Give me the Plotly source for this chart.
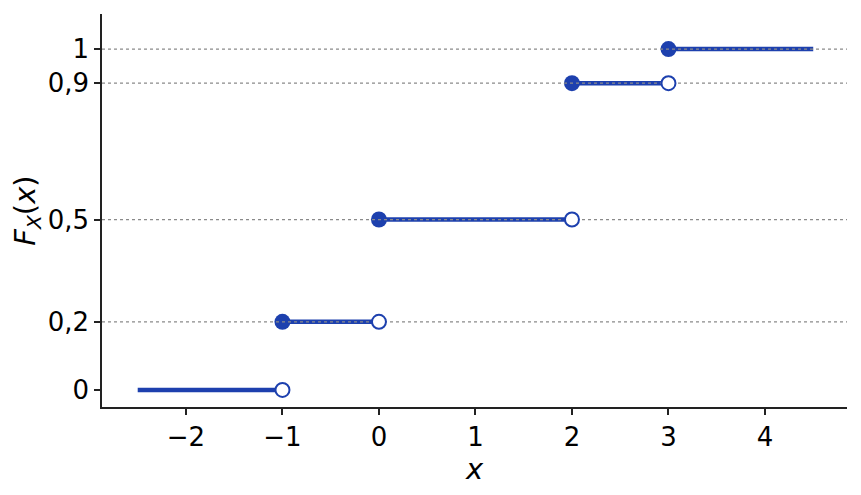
import plotly.graph_objects as go

# step function F_X(x)
seg_start = [-2.5, -1, 0, 2, 3]
seg_end = [-1, 0, 2, 3, 4.5]
seg_value = [0, 0.2, 0.5, 0.9, 1]

# closed dots at left ends, open dots at right ends
closed_x = [-1, 0, 2, 3]
closed_y = [0.2, 0.5, 0.9, 1]
open_x = [-1, 0, 2, 3]
open_y = [0, 0.2, 0.5, 0.9]

x_ticks = [-2, -1, 0, 1, 2, 3, 4]
x_labels = ['\u22122', '\u22121', '0', '1', '2', '3', '4']
y_ticks = [0, 0.2, 0.5, 0.9, 1]
y_labels = ['0', '0,2', '0,5', '0,9', '1']
grid_values = [0.2, 0.5, 0.9, 1]

x_range = [-2.87, 4.85]
y_range = [-0.05, 1.103]

blue = '#1d40ae'

fig = go.Figure()

lx, ly = [], []
for a, b, v in zip(seg_start, seg_end, seg_value):
    lx += [a, b, None]
    ly += [v, v, None]
fig.add_trace(go.Scatter(x=lx, y=ly, mode='lines',
                         line=dict(color=blue, width=4.5), hoverinfo='skip'))

fig.add_trace(go.Scatter(x=closed_x, y=closed_y, mode='markers',
                         marker=dict(color=blue, size=16, line=dict(width=0))))

gx, gy = [], []
for v in grid_values:
    gx += [x_range[0], x_range[1], None]
    gy += [v, v, None]
fig.add_trace(go.Scatter(x=gx, y=gy, mode='lines',
                         line=dict(color='#8a8a8a', width=1.3, dash='dot'),
                         hoverinfo='skip'))

fig.add_trace(go.Scatter(x=open_x, y=open_y, mode='markers',
                         marker=dict(color='white', size=14,
                                     line=dict(color=blue, width=2))))

tick_font = dict(family='DejaVu Sans', size=26, color='black')

fig.update_layout(
    width=861,
    height=495,
    autosize=False,
    showlegend=False,
    plot_bgcolor='white',
    paper_bgcolor='white',
    margin=dict(l=94, r=22, t=6, b=96),
    font=dict(family='DejaVu Sans', size=24, color='black'),
    xaxis=dict(
        range=x_range,
        tickvals=x_ticks,
        ticktext=x_labels,
        tickfont=tick_font,
        showgrid=False,
        zeroline=False,
        showline=True,
        linecolor='#222',
        linewidth=1.6,
        ticks='outside',
        ticklen=6,
        tickwidth=1.6,
        tickcolor='#222',
        title=dict(text='<i>x</i>', standoff=4),
    ),
    yaxis=dict(
        range=y_range,
        tickvals=y_ticks,
        ticktext=y_labels,
        tickfont=tick_font,
        showgrid=False,
        zeroline=False,
        showline=True,
        linecolor='#222',
        linewidth=1.6,
        ticks='outside',
        ticklen=6,
        tickwidth=1.6,
        tickcolor='#222',
        title=dict(text='<i>F</i><sub><i>X</i></sub>(<i>x</i>)', standoff=4),
    ),
)

fig.write_html("out.html")
